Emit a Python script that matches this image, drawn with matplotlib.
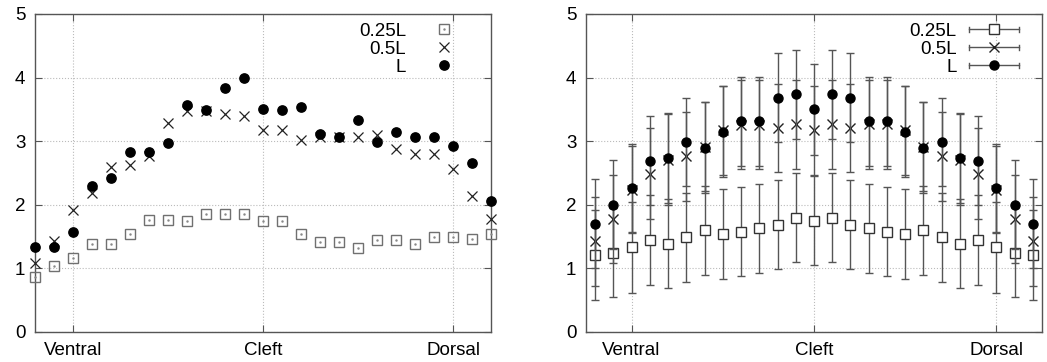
import matplotlib
matplotlib.use("Agg")
import matplotlib.pyplot as plt
from matplotlib.legend_handler import HandlerBase, HandlerTuple
from matplotlib.lines import Line2D

plt.rcParams['font.family'] = ['Liberation Sans', 'DejaVu Sans']
plt.rcParams['font.size'] = 13.5

# sample positions along the lip, with three named landmarks
pos = list(range(25))
tick_pos = [2, 12, 22]
tick_names = ["Ventral", "Cleft", "Dorsal"]
series_names = ["0.25L", "0.5L", "L"]

# left panel: single case
left_q = [0.87, 1.03, 1.17, 1.39, 1.39, 1.54, 1.76, 1.76, 1.75, 1.86, 1.86, 1.85, 1.75,
          1.75, 1.54, 1.42, 1.42, 1.32, 1.45, 1.45, 1.38, 1.50, 1.49, 1.47, 1.54]
left_h = [1.08, 1.43, 1.92, 2.18, 2.59, 2.63, 2.76, 3.29, 3.47, 3.47, 3.43, 3.39, 3.18,
          3.18, 3.02, 3.06, 3.07, 3.07, 3.10, 2.87, 2.80, 2.80, 2.56, 2.14, 1.78]
left_l = [1.33, 1.33, 1.58, 2.30, 2.42, 2.83, 2.83, 2.97, 3.57, 3.49, 3.83, 4.00, 3.50,
          3.49, 3.54, 3.12, 3.06, 3.33, 2.98, 3.15, 3.06, 3.07, 2.93, 2.66, 2.06]

# right panel: mean with error bars
right_q = [1.21, 1.25, 1.33, 1.45, 1.39, 1.49, 1.60, 1.54, 1.58, 1.63, 1.69, 1.80, 1.75,
           1.80, 1.69, 1.63, 1.58, 1.54, 1.60, 1.49, 1.39, 1.45, 1.33, 1.25, 1.21]
right_h = [1.43, 1.78, 2.24, 2.49, 2.71, 2.76, 2.91, 3.17, 3.26, 3.26, 3.21, 3.27, 3.17,
           3.27, 3.21, 3.27, 3.27, 3.17, 2.91, 2.76, 2.71, 2.49, 2.24, 1.78, 1.43]
right_l = [1.70, 2.00, 2.26, 2.69, 2.74, 2.99, 2.90, 3.15, 3.31, 3.31, 3.68, 3.74, 3.50,
           3.74, 3.68, 3.31, 3.31, 3.15, 2.90, 2.99, 2.74, 2.69, 2.26, 2.00, 1.70]
err_q = [0.71, 0.70, 0.71, 0.71, 0.70, 0.70, 0.70, 0.71, 0.70, 0.70, 0.70, 0.70, 0.70,
         0.70, 0.70, 0.70, 0.70, 0.71, 0.70, 0.70, 0.70, 0.71, 0.71, 0.70, 0.71]
err_h = [0.70, 0.69, 0.69, 0.71, 0.72, 0.70, 0.70, 0.70, 0.70, 0.70, 0.69, 0.70, 0.70,
         0.70, 0.69, 0.70, 0.70, 0.70, 0.70, 0.70, 0.72, 0.71, 0.69, 0.69, 0.70]
err_l = [0.70, 0.70, 0.69, 0.70, 0.71, 0.69, 0.71, 0.72, 0.70, 0.70, 0.70, 0.70, 0.71,
         0.70, 0.70, 0.70, 0.70, 0.72, 0.71, 0.69, 0.71, 0.70, 0.69, 0.70, 0.70]

FRAME = "#555555"
ECOL = "#555555"


class HandlerHorizErr(HandlerBase):
    # gnuplot style key: horizontal bar with end ticks and the point in the middle
    def create_artists(self, legend, orig, xdescent, ydescent, width, height, fontsize, trans):
        y = (height - ydescent) / 2
        x0, x1 = -xdescent, -xdescent + width
        cap = 0.14 * fontsize
        bar = Line2D([x0, x1], [y, y], color=ECOL, lw=1)
        c0 = Line2D([x0, x0], [y - cap, y + cap], color=ECOL, lw=1)
        c1 = Line2D([x1, x1], [y - cap, y + cap], color=ECOL, lw=1)
        m = Line2D([(x0 + x1) / 2], [y], ls="none", marker=orig.get_marker(),
                   ms=orig.get_markersize(), mfc=orig.get_markerfacecolor(),
                   mec=orig.get_markeredgecolor(), mew=orig.get_markeredgewidth())
        arts = [bar, c0, c1, m]
        for a in arts:
            a.set_transform(trans)
        return arts


def style_axes(ax):
    ax.set_ylim(0, 5)
    ax.set_yticks([0, 1, 2, 3, 4, 5])
    ax.set_xticks(tick_pos)
    ax.set_xticklabels(tick_names)
    ax.grid(True, color="#bbbbbb", ls=":", lw=0.8)
    ax.set_axisbelow(True)
    for s in ax.spines.values():
        s.set_color(FRAME)
        s.set_linewidth(1.0)
    ax.tick_params(direction="in", length=5, width=0.8, color=FRAME,
                   top=True, right=True, labelsize=13.5)
    ax.tick_params(axis="y", pad=7)
    ax.tick_params(axis="x", pad=7)


fig = plt.figure(figsize=(10.47, 3.62), dpi=100)
ax1 = fig.add_axes([35 / 1047, 30 / 362, 456 / 1047, 318 / 362])
ax2 = fig.add_axes([586 / 1047, 30 / 362, 456 / 1047, 318 / 362])

# ---- left panel
ax1.set_xlim(0, 24)
sq, = ax1.plot(pos, left_q, ls="none", marker="s", ms=6.8, mfc="none", mec="#707070",
               mew=1.0, clip_on=False, zorder=3)
dot, = ax1.plot(pos, left_q, ls="none", marker=".", ms=1.5, color="#888888",
                clip_on=False, zorder=3)
cr, = ax1.plot(pos, left_h, ls="none", marker="x", ms=6.5, color="#222222",
               mew=0.9, clip_on=False, zorder=4)
ci, = ax1.plot(pos, left_l, ls="none", marker="o", ms=6.7, color="black",
               clip_on=False, zorder=5)
style_axes(ax1)
ax1.legend([(sq, dot), cr, ci], series_names, handler_map={tuple: HandlerTuple(ndivide=1)},
           loc="upper right", bbox_to_anchor=(0.938, 0.972), markerfirst=False,
           frameon=False, numpoints=1, handlelength=2.0, handletextpad=1.03,
           labelspacing=0.04, borderaxespad=0, borderpad=0, fontsize=13.5)

# ---- right panel
ax2.set_xlim(-0.5, 24.5)
kw = dict(ls="none", ecolor=ECOL, elinewidth=1.0, capsize=3, capthick=1.0)
e1 = ax2.errorbar(pos, right_q, yerr=err_q, marker="s", ms=7.7, mfc="white",
                  mec="#333333", mew=1.0, zorder=3, **kw)
e2 = ax2.errorbar(pos, right_h, yerr=err_h, marker="x", ms=6.5, color="#222222",
                  mew=1.0, zorder=4, **kw)
e3 = ax2.errorbar(pos, right_l, yerr=err_l, marker="o", ms=6.5, color="black",
                  zorder=5, **kw)
style_axes(ax2)
ax2.legend([e1[0], e2[0], e3[0]], series_names,
           handler_map={Line2D: HandlerHorizErr()},
           loc="upper right", bbox_to_anchor=(0.9496, 0.972), markerfirst=False,
           frameon=False, handlelength=2.67, handletextpad=0.66,
           labelspacing=0.04, borderaxespad=0, borderpad=0, fontsize=13.5)

fig.savefig("out.png", dpi=100)
